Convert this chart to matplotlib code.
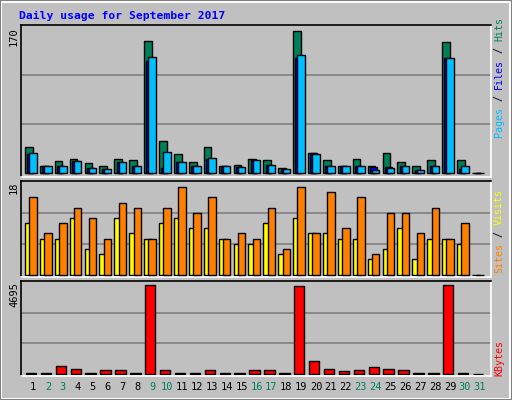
import matplotlib
matplotlib.use("Agg")
import matplotlib.pyplot as plt
from matplotlib.patches import Rectangle

days = list(range(1, 32))
hits  = [31,8,14,17,12,8,17,15,153,38,22,13,30,8,10,17,15,6,165,23,16,9,17,9,24,13,9,15,152,16,0]
files = [22,8,8,14,6,5,13,8,130,6,13,9,17,8,7,15,10,5,133,23,8,8,8,7,7,9,4,8,133,5,0]
pages = [23,8,8,14,6,5,13,8,135,25,13,9,18,8,7,15,10,5,137,22,8,8,8,4,6,9,4,8,133,9,0]
sites  = [10,7,7,11,5,4,11,8,7,10,11,9,9,7,6,6,10,4,11,8,8,7,7,3,5,9,3,7,7,6,0]
visits = [15,8,10,13,11,7,14,13,7,13,17,12,15,7,8,7,13,5,17,8,16,9,15,4,12,12,8,13,7,10,0]
kbytes = [50,50,415,265,50,165,165,50,4560,165,50,50,165,50,50,165,165,50,4500,665,265,115,215,365,265,165,50,50,4560,50,0]
weekend = [2,3,9,10,16,17,23,24,30,31]
max_top, max_mid, max_bot = 170, 18, 4695

W, H = 512, 400
fig = plt.figure(figsize=(W/100, H/100), dpi=100, facecolor='#c0c0c0')
fig.patches.append(Rectangle((1/W, 1/H), 1-3/W, 1-3/H, transform=fig.transFigure,
                             fill=False, edgecolor='white', lw=1.5))
fig.patches.append(Rectangle((0, 0), 1, 1, transform=fig.transFigure,
                             fill=False, edgecolor='#808080', lw=1.5))

def ax_at(x0, y0, x1, y1):
    return fig.add_axes([x0/W, 1-y1/H, (x1-x0)/W, (y1-y0)/H])

xl = (0.195, 31.74)
panels = [ax_at(21, 25, 491, 177), ax_at(21, 181, 491, 277), ax_at(21, 281, 491, 376)]
maxes = [max_top, max_mid, max_bot]
for ax, m in zip(panels, maxes):
    ax.set_facecolor('#c0c0c0')
    ax.set_xlim(*xl)
    ax.set_ylim(-m*0.025, m*1.01)
    for f in (1/3, 2/3):
        ax.axhline(m*f, color='#808080', lw=1.2, zorder=0)
    ax.set_xticks([]); ax.set_yticks([])
    for s in ax.spines.values():
        s.set_color('black'); s.set_linewidth(1.2)
    ax.spines['right'].set_color('white'); ax.spines['bottom'].set_color('white')

ek = dict(edgecolor='black', linewidth=1)
a = panels[0]
a.bar([d-0.28 for d in days], hits, width=0.52, color='#00805a', **ek, zorder=2)
a.bar([d-0.16 for d in days], files, width=0.45, color='#0000ff', **ek, zorder=3)
a.bar(days, pages, width=0.5, color='#00bfff', **ek, zorder=4)
a = panels[1]
a.bar([d-0.27 for d in days], sites, width=0.54, color='#ffff00', **ek, zorder=2)
a.bar(days, visits, width=0.5, color='#ff8000', **ek, zorder=3)
a = panels[2]
a.bar([d-0.13 for d in days], kbytes, width=0.7, color='#ff0000', **ek, zorder=2)

mono = 'DejaVu Sans Mono'
for d in days:
    panels[2].text(d, -0.06, str(d), transform=panels[2].get_xaxis_transform(),
                   ha='center', va='top', family=mono, fontsize=7.5,
                   color='#007f5f' if d in weekend else 'black')

fig.text(19/W, 1-16/H, 'Daily usage for September 2017', family=mono, fontsize=8.2,
         fontweight='bold', color='#0000ff', va='center', ha='left')

for lab, ytop in (('170', 27), ('18', 181), ('4695', 282)):
    fig.text(14/W, 1-ytop/H, lab, rotation=90, family=mono, fontsize=7.5,
             va='top', ha='center')

def vlabel(parts, ybottom, x=499, fs=7.2):
    step = 0.602*fs*100/72
    y = ybottom
    for s, c in parts:
        fig.text(x/W, 1-y/H, s, rotation=90, family=mono, fontsize=fs, color=c,
                 va='bottom', ha='center')
        y -= step*len(s)

vlabel([('Pages', '#00bfff'), (' / ', 'black'), ('Files', '#0000ff'), (' / ', 'black'),
        ('Hits', '#00805a')], 137)
vlabel([('Sites', '#ff8000'), (' / ', 'black'), ('Visits', '#ffff00')], 273)
vlabel([('KBytes', '#ff0000')], 376)

fig.savefig('out.png', dpi=100, facecolor=fig.get_facecolor())
